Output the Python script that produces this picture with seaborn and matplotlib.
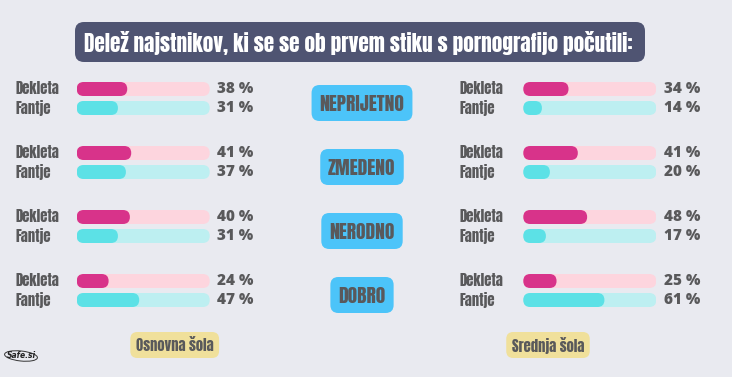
import matplotlib
matplotlib.use("Agg")
import matplotlib.pyplot as plt
from matplotlib.patches import FancyBboxPatch, Ellipse
import pandas as pd
import seaborn as sns

title = "Delež najstnikov, ki se se ob prvem stiku s pornografijo počutili:"
feelings = ["NEPRIJETNO", "ZMEDENO", "NERODNO", "DOBRO"]
genders = ["Dekleta", "Fantje"]
schools = ["Osnovna šola", "Srednja šola"]
osnovna_dekleta = [38, 41, 40, 24]
osnovna_fantje = [31, 37, 31, 47]
srednja_dekleta = [34, 41, 48, 25]
srednja_fantje = [14, 20, 17, 61]

W, H = 732, 377
BG = "#e9eaf0"
GREY = "#59595b"
fill_pal = {"Dekleta": "#d8338a", "Fantje": "#5ce1e6"}
track_pal = {"Dekleta": "#fdd5de", "Fantje": "#bdeff1"}

sns.set_theme(style="white", rc={"figure.facecolor": BG, "axes.facecolor": "none"})
narrow = ["Anton", "Liberation Sans", "DejaVu Sans"]
num_font = ["Open Sans", "DejaVu Sans"]
PX = 0.72  # points per pixel at dpi 100

fig = plt.figure(figsize=(W / 100, H / 100), dpi=100)
deco = fig.add_axes([0, 0, 1, 1])
deco.set_xlim(0, W)
deco.set_ylim(H, 0)
deco.axis("off")


def box(cx, cy, w, h, color, r):
    deco.add_patch(FancyBboxPatch((cx - w / 2, cy - h / 2), w, h,
                                  boxstyle=f"round,pad=0,rounding_size={r}",
                                  fc=color, ec="none"))


# title
box(360, 42, 570, 40, "#4f5472", 9)
deco.text(358, 43, title, color="white", fontsize=15.3, family=narrow,
          ha="center", va="center")

track_w = 133


def panel(left_px, label_px, dek, fan):
    ax = fig.add_axes([left_px / W, 0, track_w / W, 1])
    rows = pd.DataFrame({
        "pos": [89 + 64 * i + 19 * j for i in range(len(dek)) for j in range(2)],
        "gender": [g for i in range(len(dek)) for g in genders],
        "value": [v for pair in zip(dek, fan) for v in pair],
    })
    rows["track"] = 100
    for col, pal in [("track", track_pal), ("value", fill_pal)]:
        sns.barplot(data=rows, x=col, y="pos", hue="gender", palette=pal,
                    orient="y", native_scale=True, dodge=False, width=14 / 19,
                    saturation=1, errorbar=None, legend=False, ax=ax)
    ax.set_xlim(0, 100)
    ax.set_ylim(H, 0)
    ax.axis("off")

    # rounded ends
    sx = track_w / 100
    for p in list(ax.patches):
        x, y, w, h = p.get_x(), p.get_y(), p.get_width(), p.get_height()
        c = p.get_facecolor()
        p.remove()
        ax.add_patch(FancyBboxPatch((x, y), w, h,
                                    boxstyle=f"round,pad=0,rounding_size={abs(h) / 2 / sx}",
                                    mutation_aspect=sx, fc=c, ec="none", lw=0))

    for _, r in rows.iterrows():
        ax.annotate(r["gender"], xy=(0, r["pos"]), xytext=((label_px - left_px) * PX, 0),
                    textcoords="offset points", ha="left", va="center",
                    fontsize=10.5, family=narrow, color=GREY)
        ax.annotate(f"{r['value']} %", xy=(100, r["pos"]), xytext=(7.4 * PX, 0),
                    textcoords="offset points", ha="left", va="center",
                    fontsize=11, fontweight="heavy", family=num_font, color=GREY)
    return ax


panel(76.7, 15, osnovna_dekleta, osnovna_fantje)
panel(523.3, 460, srednja_dekleta, srednja_fantje)

# centre labels and school tags, boxes sized to their text
fig.canvas.draw()
ren = fig.canvas.get_renderer()
for i, f in enumerate(feelings):
    t = deco.text(362, 104 + 64 * i, f, fontsize=14, family=narrow,
                  color=GREY, ha="center", va="center", zorder=3)
    box(362, 103 + 64 * i, t.get_window_extent(ren).width + 16, 36, "#4cc4f9", 8)

for s, cx in zip(schools, [174.7, 548]):
    t = deco.text(cx, 345.5, s, fontsize=10.5, family=narrow,
                  color=GREY, ha="center", va="center", zorder=3)
    box(cx, 345, t.get_window_extent(ren).width + 11, 26, "#f0e09b", 7)

# Safe.si mark
deco.add_patch(Ellipse((21, 356), 33, 10, angle=6, fill=False, ec="#333333", lw=0.7))
deco.text(21, 355, "Safe.si", fontsize=5.5, fontweight="bold", style="italic",
          color="#222222", ha="center", va="center")

fig.savefig("out.png", dpi=100, facecolor=BG)
